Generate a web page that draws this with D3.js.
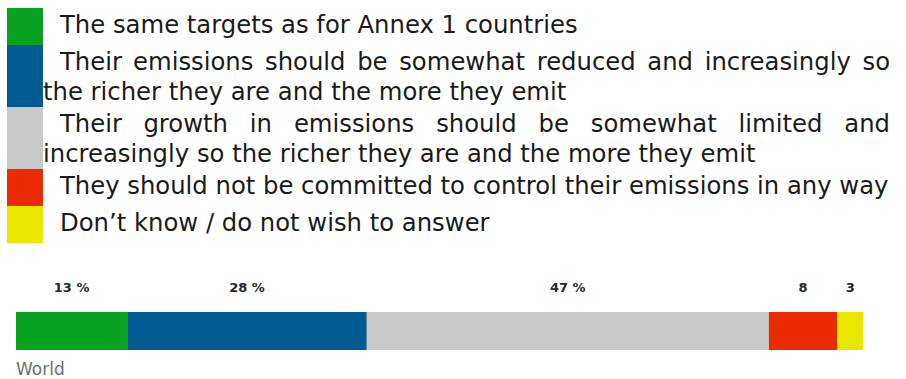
<!DOCTYPE html>
<html>
<head>
<meta charset="utf-8">
<script src="https://cdn.jsdelivr.net/npm/d3@7"></script>
<style>
body{margin:0;background:#fff;}
svg{display:block;}
</style>
</head>
<body>
<div id="chart"></div>
<script>
// answer categories (legend text, already split on the picture's line breaks)
var categories = [
	["The same targets as for Annex 1 countries"],
	["Their emissions should be somewhat reduced and increasingly so", "the richer they are and the more they emit"],
	["Their growth in emissions should be somewhat limited and", "increasingly so the richer they are and the more they emit"],
	["They should not be committed to control their emissions in any way"],
	["Don\u2019t know / do not wish to answer"]
];
var colors = ["#07a21f", "#005b93", "#c9c9c9", "#ea2a00", "#ebe600"];
var rowName = ["World"];
var values = [13, 28, 47, 8, 3];
var valueLabels = ["13 %", "28 %", "47 %", "8", "3"];

var W = 906, H = 379;
var svg = d3.select('#chart').append('svg')
	.attr('width', W).attr('height', H);

// ---- legend ----
var fontLeg = '24.3px "DejaVu Sans", Verdana, sans-serif';
var legX = 7, swW = 36, txtX0 = 60, txtX1 = 43, txtRight = 890;
var lineH = 30, oneH = 37, twoH = 62;

var legend = svg.append('g').attr('class', 'legend');
var rowTop = 8;
categories.forEach(function(lines, i){
	var h = lines.length > 1 ? twoH : oneH;
	legend.append('rect')
		.attr('x', legX).attr('y', rowTop)
		.attr('width', swW).attr('height', h)
		.attr('fill', colors[i]);
	lines.forEach(function(line, j){
		var ty = rowTop + 25 + j * lineH;
		var tx = j == 0 ? txtX0 : txtX1;
		var justify = lines.length > 1 && j < lines.length - 1;
		var words = line.split(' ');
		var t = legend.append('text')
			.attr('y', ty)
			.style('font', fontLeg)
			.attr('fill', '#1a1a1a');
		if (!justify){
			t.attr('x', tx).text(line);
			return;
		}
		// justified line: place each word on its own
		var spans = words.map(function(w){
			return t.append('tspan').text(w);
		});
		var widths = spans.map(function(s){return s.node().getComputedTextLength();});
		var gap = (txtRight - tx - d3.sum(widths)) / (words.length - 1);
		var cx = tx;
		spans.forEach(function(s, k){
			s.attr('x', cx);
			cx += widths[k] + gap;
		});
	});
	rowTop += h;
});

// ---- stacked bar ----
var xs = d3.scaleLinear().domain([0, d3.sum(values)]).range([16, 863]);
var ys = d3.scaleBand().domain(rowName).range([312, 350]).padding(0);

var stack = [];
var acc = 0;
values.forEach(function(v, i){
	stack.push({v: v, x0: acc, x1: acc + v, c: colors[i], lab: valueLabels[i]});
	acc += v;
});

svg.selectAll('.seg')
	.data(stack).enter()
	.append('rect')
		.attr('class', 'seg')
		.attr('x', function(d){return xs(d.x0);})
		.attr('width', function(d){return xs(d.x1) - xs(d.x0);})
		.attr('y', ys('World'))
		.attr('height', ys.bandwidth())
		.attr('fill', function(d){return d.c;});

svg.selectAll('.vlab')
	.data(stack).enter()
	.append('text')
		.attr('class', 'vlab')
		.attr('x', function(d){return (xs(d.x0) + xs(d.x1)) / 2;})
		.attr('y', 292)
		.attr('text-anchor', 'middle')
		.style('font', 'bold 13px "DejaVu Sans", sans-serif')
		.attr('fill', '#262626')
		.text(function(d){return d.lab;});

svg.append('text')
	.attr('x', 16).attr('y', 375)
	.style('font', '17px "DejaVu Sans", sans-serif')
	.attr('fill', '#707070')
	.text(rowName[0]);
</script>
</body>
</html>
